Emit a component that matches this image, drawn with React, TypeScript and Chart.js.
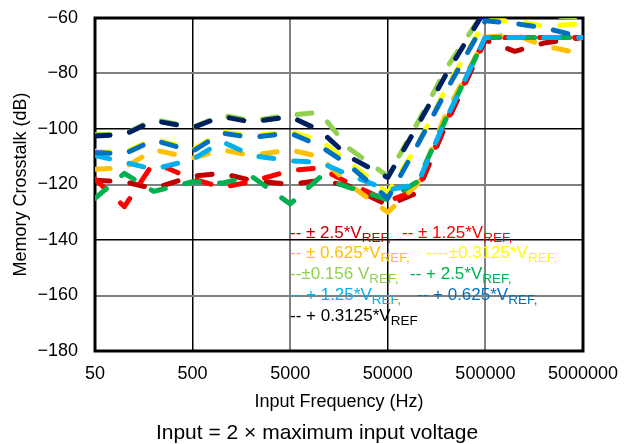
import React, { useEffect, useRef } from "react";
import { Chart, registerables } from "chart.js";

Chart.register(...registerables);

const FONT = "'Liberation Sans', Arial, sans-serif";

// Frequencies (Hz) at which each curve is sampled
const frequencies = [50, 100, 200, 500, 1000, 2000, 5000, 10000, 20000, 50000, 100000, 200000, 500000, 1000000, 2000000, 5000000];
const xTickValues = [50, 500, 5000, 50000, 500000, 5000000];
const yMin = -180;
const yMax = -60;
const yStep = 20;

// Crosstalk (dB) for each series
const pm2p5 = [-118.5, -119, -121.5, -117, -116, -118.5, -120, -118.5, -120.5, -127.5, -123, -98, -68, -72, -69, -67];
const pm1p25 = [-118, -128, -112, -118, -121, -119, -115, -114, -119.5, -126, -122, -97, -67, -67, -67, -67];
const pm0p625 = [-114.5, -114, -107.5, -110.5, -107.5, -109.5, -107.5, -110, -120, -130, -120, -94, -67, -66, -70, -73];
const pm0p3125 = [-108, -108.5, -103.5, -107.5, -101, -102.5, -101, -104, -112, -123, -106, -85, -61, -61, -63, -62];
const pm0p156 = [-102, -102, -96.5, -99.5, -95, -97, -95, -94, -107, -117, -98, -78, -57, -58, -59, -60];
const p2p5 = [-125, -116, -122.5, -119, -119.5, -117, -127, -117.5, -121, -125.5, -119, -96, -67, -67, -67, -67];
const p1p25 = [-109.5, -112, -114.5, -111, -104.5, -109.5, -111.5, -112, -116.5, -122, -120, -96, -67, -67, -67, -67];
const p0p625 = [-108.5, -109, -104, -108, -101.5, -103, -101.5, -106, -113, -125, -106, -86, -61, -62, -63.5, -67];
const p0p3125 = [-102.5, -102, -97, -99.5, -95.5, -97.5, -95.5, -100.5, -110, -117.5, -99, -80, -57, -58, -59, -58];

const seriesValues = [pm2p5, pm1p25, pm0p625, pm0p3125, pm0p156, p2p5, p1p25, p0p625, p0p3125];
const seriesNames = ["± 2.5*VREF", "± 1.25*VREF", "± 0.625*VREF", "±0.3125*VREF", "±0.156 VREF", "+ 2.5*VREF", "+ 1.25*VREF", "+ 0.625*VREF", "+ 0.3125*VREF"];
const seriesColors = ["#C00000", "#FF0000", "#FFC000", "#FFFF00", "#92D050", "#00B050", "#00B0F0", "#0070C0", "#002060"];

// Legend text (main part, subscript)
const legendMain = ["-- ± 2.5*V", "-- ± 1.25*V", "-- ± 0.625*V", "----±0.3125*V", "--±0.156 V", "-- + 2.5*V", "-- + 1.25*V", "-- + 0.625*V", "-- + 0.3125*V"];
const legendSub = ["REF,", "REF,", "REF,", "REF,", "REF,", "REF,", "REF,", "REF,", "REF"];
const legendTextColors = ["#C00000", "#FF0000", "#FFC000", "#FFFF00", "#92D050", "#00B050", "#00B0F0", "#0070C0", "#000000"];
const legendRow = [0, 0, 1, 1, 2, 2, 3, 3, 4];
const legendLeft = [290, 402, 290, 426, 290, 410, 290, 417, 290];

const captionText = "Input = 2 × maximum input voltage";

const framePlugin = {
  id: "frame",
  beforeDatasetsDraw(chart: any) {
    const { ctx, chartArea } = chart;
    ctx.save();
    ctx.strokeStyle = "#000";
    ctx.lineWidth = 3;
    ctx.strokeRect(chartArea.left, chartArea.top, chartArea.right - chartArea.left, chartArea.bottom - chartArea.top);
    ctx.restore();
  },
};

export default function App() {
  const canvasRef = useRef<HTMLCanvasElement | null>(null);

  useEffect(() => {
    if (!canvasRef.current) return;
    const datasets = seriesValues.map((vals, i) => ({
      label: seriesNames[i],
      data: frequencies.map((f, j) => ({ x: f, y: vals[j] })),
      borderColor: seriesColors[i],
      backgroundColor: seriesColors[i],
      borderWidth: 5,
      borderDash: [15, 20],
      borderCapStyle: "round" as const,
      borderJoinStyle: "round" as const,
      pointRadius: 0,
      tension: 0,
      fill: false,
      order: seriesValues.length - 1 - i,
    }));

    const chart = new Chart(canvasRef.current, {
      type: "line",
      data: { datasets },
      plugins: [framePlugin],
      options: {
        animation: false,
        responsive: false,
        devicePixelRatio: 1,
        layout: { padding: { top: 18, right: 45, left: 0, bottom: 30.2 } },
        plugins: {
          legend: { display: false },
          tooltip: { enabled: false },
          title: { display: false },
        },
        scales: {
          x: {
            type: "logarithmic",
            min: 50,
            max: 5000000,
            afterBuildTicks: (s: any) => {
              s.ticks = xTickValues.map((v) => ({ value: v }));
            },
            afterFit: (s: any) => {
              s.height = 62.8;
              s.paddingLeft = 0;
              s.paddingRight = 0;
            },
            ticks: {
              autoSkip: false,
              maxRotation: 0,
              padding: 12,
              color: "#000",
              font: { family: FONT, size: 18 },
              callback: (v: any) => String(v),
            },
            grid: {
              drawTicks: false,
              color: (c: any) => (c.index % 2 === 1 ? "#000000" : "#808080"),
              lineWidth: (c: any) => (c.index % 2 === 1 ? 1.5 : 2),
            },
            border: { display: false },
            title: {
              display: true,
              text: "Input Frequency (Hz)",
              color: "#000",
              font: { family: FONT, size: 18 },
              padding: { top: 0, bottom: 1 },
            },
          },
          y: {
            type: "linear",
            min: yMin,
            max: yMax,
            afterFit: (s: any) => {
              s.width = 95;
              s.paddingTop = 0;
              s.paddingBottom = 0;
            },
            ticks: {
              stepSize: yStep,
              padding: 17,
              color: "#000",
              font: { family: FONT, size: 18 },
              callback: (v: any) => (Number(v) < 0 ? "\u2212" + Math.abs(Number(v)) : String(v)),
            },
            grid: {
              drawTicks: false,
              color: (c: any) => (c.index % 2 === 0 ? "#000000" : "#808080"),
              lineWidth: (c: any) => (c.index % 2 === 0 ? 1.5 : 2),
            },
            border: { display: false },
            title: {
              display: true,
              text: "Memory Crosstalk (dB)",
              color: "#000",
              font: { family: FONT, size: 18 },
              padding: { top: 10.5, bottom: 0 },
            },
          },
        },
      },
    });
    return () => chart.destroy();
  }, []);

  return (
    <div style={{ position: "fixed", left: 0, top: 0, width: 628, height: 444, background: "#fff", fontFamily: FONT }}>
      <canvas ref={canvasRef} width={628} height={444} style={{ display: "block" }} />
      {legendMain.map((t, i) => (
        <span
          key={i}
          style={{
            position: "absolute",
            left: legendLeft[i],
            top: 238 + legendRow[i] * 20.8 - 14.5,
            color: legendTextColors[i],
            fontSize: 17,
            lineHeight: "17px",
            whiteSpace: "nowrap",
          }}
        >
          {t}
          <sub style={{ fontSize: 13.5, verticalAlign: "-4px", lineHeight: "13px" }}>{legendSub[i]}</sub>
        </span>
      ))}
      <div
        style={{
          position: "absolute",
          left: 0,
          width: 634,
          top: 418.5,
          textAlign: "center",
          fontSize: 21,
          lineHeight: "25px",
          color: "#000",
          whiteSpace: "nowrap",
        }}
      >
        {captionText}
      </div>
    </div>
  );
}
